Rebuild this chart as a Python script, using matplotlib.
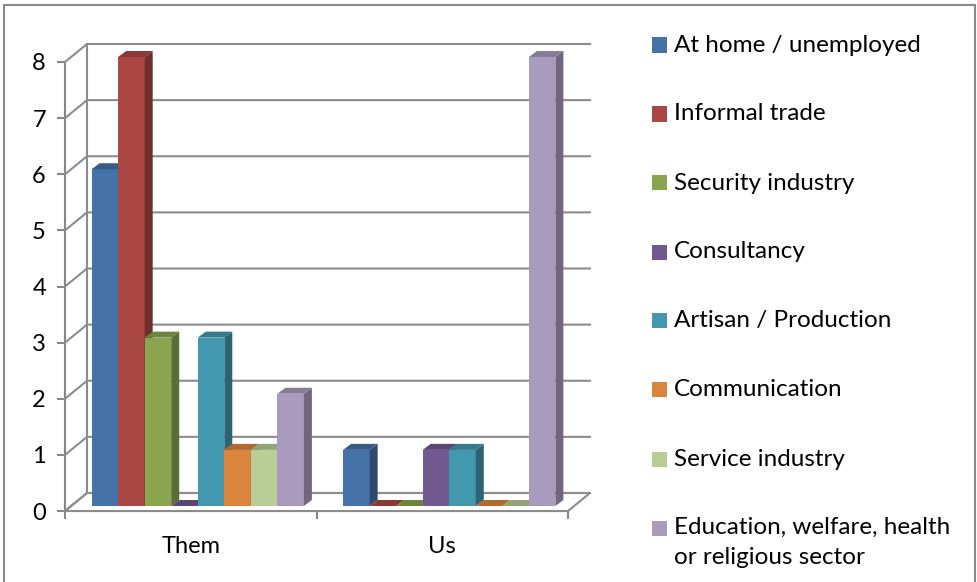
import matplotlib.pyplot as plt
from matplotlib.patches import Polygon, Rectangle
from matplotlib.lines import Line2D
import matplotlib.colors as mcolors

plt.rcParams['font.family'] = ['Lato', 'DejaVu Sans']

# Data
groups = ['Them', 'Us']
series = ['At home / unemployed', 'Informal trade', 'Security industry', 'Consultancy',
          'Artisan / Production', 'Communication', 'Service industry',
          'Education, welfare, health\nor religious sector']
them = [6, 8, 3, 0, 3, 1, 1, 2]
us = [1, 0, 0, 1, 1, 0, 0, 8]
colors = ['#4572A7', '#AA4643', '#89A54E', '#71588F', '#4198AF', '#DB843D', '#B9CD96', '#A99BBD']
yticks = list(range(0, 9))

W, H = 977, 582
fig = plt.figure(figsize=(W / 100, H / 100), dpi=100)

# front plane of the 3D box, in pixels
x0, x1 = 65, 568
y0, y1 = 511, 62
ax = fig.add_axes([x0 / W, (H - y0) / H, (x1 - x0) / W, (y0 - y1) / H])
ax.set_xlim(0, 2)
ax.set_ylim(0, 8)
ax.patch.set_visible(False)

grey = '#878787'
for s in ['top', 'right']:
    ax.spines[s].set_visible(False)
for s in ['left', 'bottom']:
    ax.spines[s].set_color(grey)
    ax.spines[s].set_linewidth(1.5)

ax.set_yticks(yticks)
ax.set_xticks([0, 1, 2])
ax.set_xticklabels([])
ax.set_xticks([0.5, 1.5], minor=True)
ax.set_xticklabels(groups, minor=True)
ax.tick_params(axis='y', length=8 * 0.72, width=1.5, color=grey, labelsize=17, pad=8)
ax.tick_params(axis='x', which='major', length=8 * 0.72, width=1.5, color=grey)
ax.tick_params(axis='x', which='minor', length=0, labelsize=17, pad=18)

# depth offsets (pixels, screen y up)
WALL = (22, 18)
BAR_FRONT = (7, 5)
BAR_BACK = (15, 11)


def px(x, y, off=(0, 0)):
    X, Y = ax.transData.transform((x, y))
    return (X + off[0], Y + off[1])


def poly(pts, fc, ec='none', lw=0, z=2):
    fig.add_artist(Polygon(pts, closed=True, facecolor=fc, edgecolor=ec,
                           linewidth=lw, transform=None, zorder=z))


def line(pts, z=1):
    xs, ys = zip(*pts)
    fig.add_artist(Line2D(xs, ys, color='#8c8c8c', linewidth=1.5, transform=None, zorder=z))


# floor
poly([px(0, 0), px(2, 0), px(2, 0, WALL), px(0, 0, WALL)], 'white', ec='#8c8c8c', lw=1.5, z=1)

# back wall gridlines and side wall diagonals
for v in yticks:
    line([px(0, v), px(0, v, WALL), px(2, v, WALL)])
line([px(0, 0, WALL), px(0, 8, WALL)])


def shade(c, f):
    r, g, b = mcolors.to_rgb(c)
    return (r * f, g * f, b * f)


# bars: front, right side and top faces
n = len(series)
bw = 0.1055
gap = 1 - n * bw
for gi, vals in enumerate([them, us]):
    for si, v in enumerate(vals):
        left = gi + gap / 2 + si * bw
        right = left + bw
        c = colors[si]
        poly([px(left, 0, BAR_FRONT), px(right, 0, BAR_FRONT),
              px(right, v, BAR_FRONT), px(left, v, BAR_FRONT)], c, z=3)
        poly([px(right, 0, BAR_FRONT), px(right, 0, BAR_BACK),
              px(right, v, BAR_BACK), px(right, v, BAR_FRONT)], shade(c, 0.66), z=3)
        poly([px(left, v, BAR_FRONT), px(right, v, BAR_FRONT),
              px(right, v, BAR_BACK), px(left, v, BAR_BACK)], shade(c, 0.8), z=3)

# legend
leg_y = [45, 114, 183, 252, 320, 389, 459, 528]
for lab, c, yy in zip(series, colors, leg_y):
    fig.add_artist(Rectangle((652 / W, (H - yy - 7.5) / H), 15 / W, 15 / H,
                             facecolor=c, edgecolor='none', transform=fig.transFigure))
    if '\n' in lab:
        fig.text(674 / W, (H - yy + 11) / H, lab, fontsize=17.5, va='top', ha='left',
                 linespacing=1.5)
    else:
        fig.text(674 / W, (H - yy) / H, lab, fontsize=17.5, va='center', ha='left')

# chart border
fig.add_artist(Rectangle((4 / W, -0.01), 971 / W, (H - 5) / H + 0.01, fill=False,
                         edgecolor='#8a8a8a', linewidth=1.5, transform=fig.transFigure))

fig.savefig('out.png', dpi=100)
